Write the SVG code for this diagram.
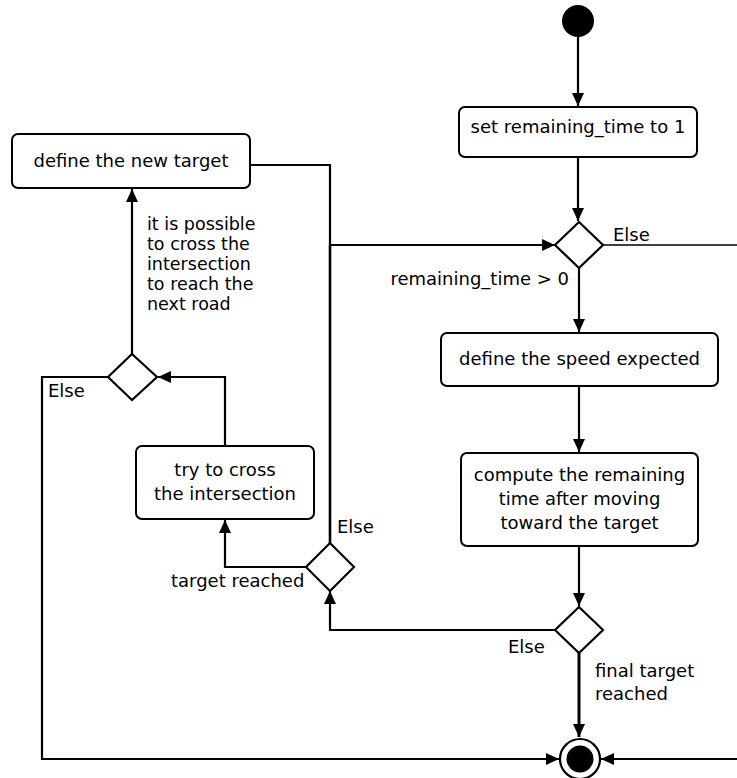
<svg xmlns="http://www.w3.org/2000/svg" width="737" height="778" viewBox="0 0 737 778">
<style>
.box{fill:#fff;stroke:#000;stroke-width:2}
.dia{fill:#fff;stroke:#000;stroke-width:2.2}
.c{fill:none;stroke:#000;stroke-width:2.2}
.t{font-family:"DejaVu Sans",Verdana,sans-serif;font-size:18px;fill:#000}
.s{font-size:17.5px}
.m{text-anchor:middle}
</style>
<defs>
<marker id="ah" markerUnits="userSpaceOnUse" markerWidth="14" markerHeight="12" refX="13" refY="6" orient="auto">
<path d="M0,0 L13,6 L0,12 z" fill="#000"/>
</marker>
</defs>
<rect width="737" height="778" fill="#fff"/>
<g id="connectors">
<path class="c" d="M578,37 V106" marker-end="url(#ah)"/>
<path class="c" d="M578,157 V221" marker-end="url(#ah)"/>
<path class="c" d="M603,245 H737" style="stroke-width:1.6"/>
<path class="c" d="M579,268 V332" marker-end="url(#ah)"/>
<path class="c" d="M579,386 V452" marker-end="url(#ah)"/>
<path class="c" d="M579,546 V606" marker-end="url(#ah)"/>
<path class="c" d="M579,653 V737" marker-end="url(#ah)" style="stroke-width:3"/>
<path class="c" d="M555,630 H330 V591" marker-end="url(#ah)"/>
<path class="c" d="M306,567 H225 V520" marker-end="url(#ah)"/>
<path class="c" d="M250,165 H330 V245 H555" marker-end="url(#ah)"/>
<path class="c" d="M330,543 V245" style="stroke-width:2.6"/>
<path class="c" d="M225,446 V377 H158" marker-end="url(#ah)"/>
<path class="c" d="M132,354 V189" marker-end="url(#ah)"/>
<path class="c" d="M108,377 H42 V759 H559" marker-end="url(#ah)"/>
<path class="c" d="M737,759 H601" marker-end="url(#ah)"/>
</g>
<g id="start"><circle cx="578" cy="21" r="16" fill="#000"/></g>
<g id="set-time">
<rect class="box" x="459" y="107" width="238" height="50" rx="6"/>
<text class="t m" x="578" y="133">set remaining_time to 1</text>
</g>
<g id="decision-time">
<path class="dia" d="M579,222 L603,245 L579,268 L555,245 z"/>
<text class="t" x="613" y="241">Else</text>
<text class="t" x="569" y="285" text-anchor="end">remaining_time &gt; 0</text>
</g>
<g id="define-speed">
<rect class="box" x="441" y="333" width="277" height="53" rx="6"/>
<text class="t m" x="579.5" y="365">define the speed expected</text>
</g>
<g id="compute-time">
<rect class="box" x="461" y="453" width="237" height="93" rx="6"/>
<text class="t m" x="579.5" y="481">compute the remaining</text>
<text class="t m" x="579.5" y="505">time after moving</text>
<text class="t m" x="579.5" y="529">toward the target</text>
</g>
<g id="decision-final">
<path class="dia" d="M579,607 L603,630 L579,653 L555,630 z"/>
<text class="t" x="508" y="653">Else</text>
<text class="t" x="595" y="677">final target</text>
<text class="t" x="595" y="700">reached</text>
</g>
<g id="end">
<circle cx="580" cy="759" r="20" fill="#fff" stroke="#000" stroke-width="2.2"/>
<circle cx="580" cy="759" r="13.5" fill="#000"/>
</g>
<g id="decision-target">
<path class="dia" d="M330,543 L354,567 L330,591 L306,567 z"/>
<text class="t" x="337" y="533">Else</text>
<text class="t" x="171" y="587">target reached</text>
</g>
<g id="try-cross">
<rect class="box" x="136" y="446" width="178" height="73" rx="6"/>
<text class="t m" x="225" y="476">try to cross</text>
<text class="t m" x="225" y="500">the intersection</text>
</g>
<g id="decision-cross">
<path class="dia" d="M132,354 L157,377 L132,400 L108,377 z"/>
<text class="t" x="48" y="397">Else</text>
<text class="t s" x="147" y="230">it is possible</text>
<text class="t s" x="147" y="250">to cross the</text>
<text class="t s" x="147" y="270">intersection</text>
<text class="t s" x="147" y="290">to reach the</text>
<text class="t s" x="147" y="310">next road</text>
</g>
<g id="define-target">
<rect class="box" x="12" y="134" width="238" height="54" rx="6"/>
<text class="t m" x="131" y="167">define the new target</text>
</g>
</svg>
